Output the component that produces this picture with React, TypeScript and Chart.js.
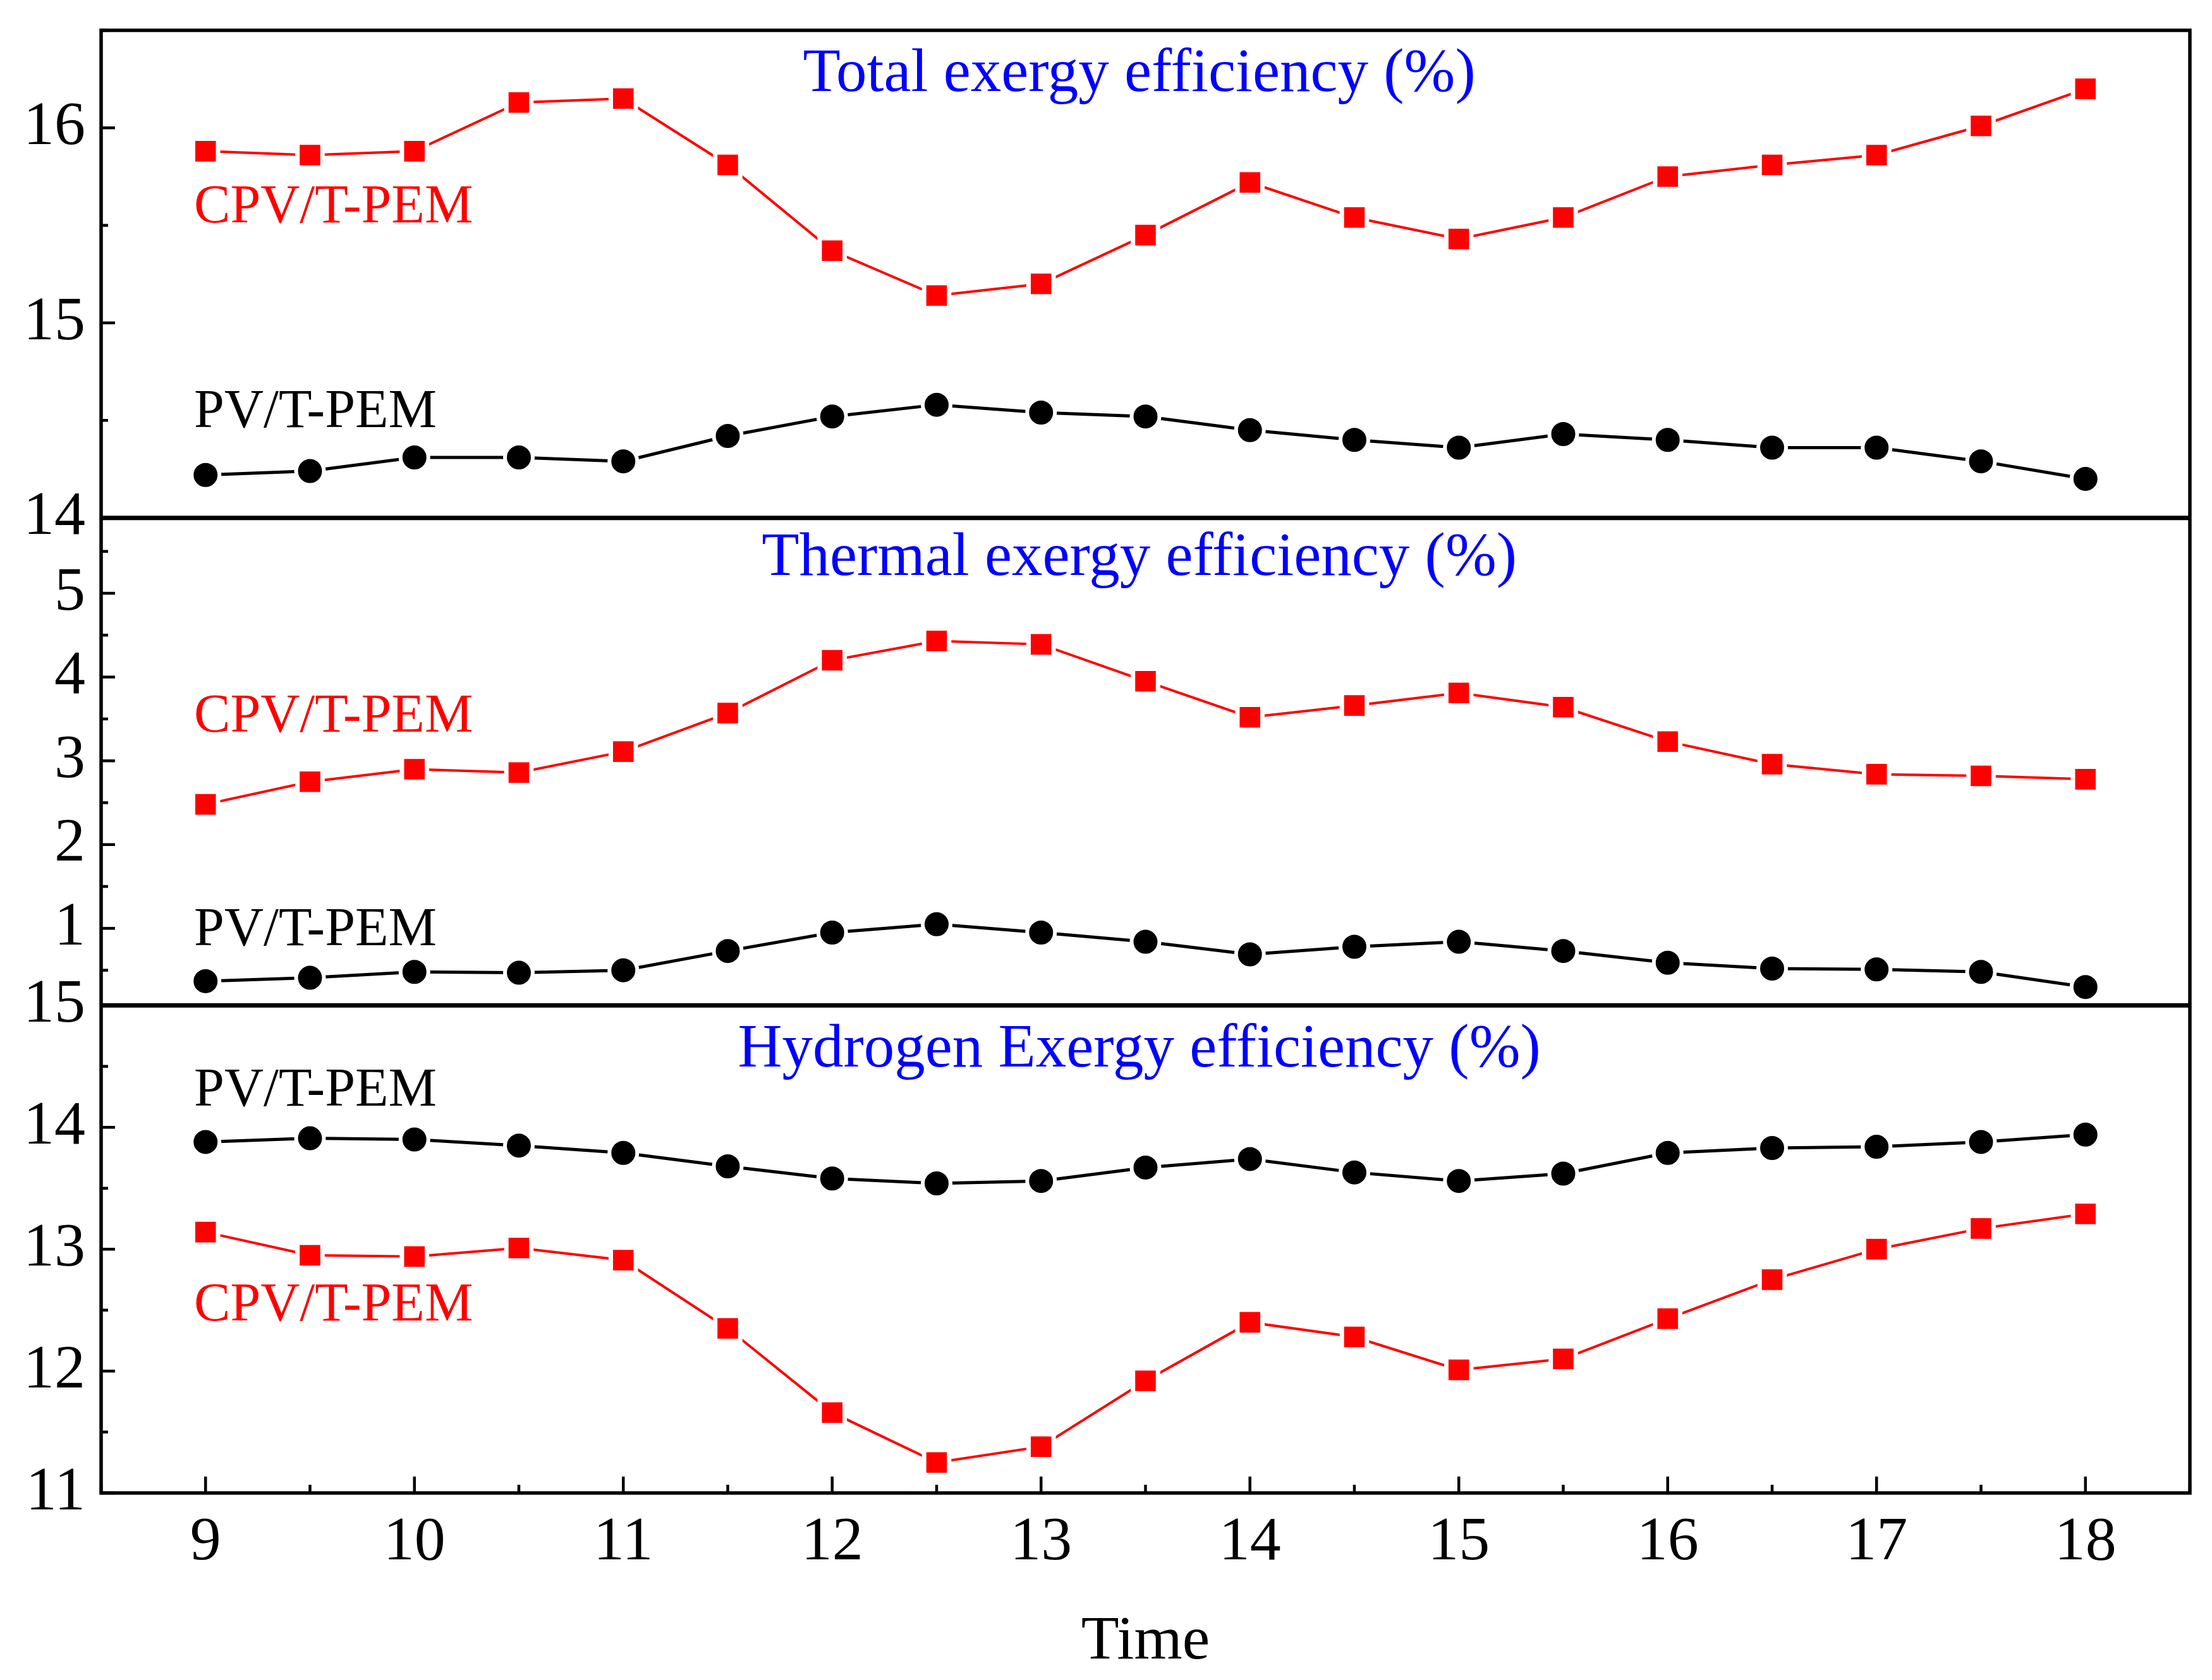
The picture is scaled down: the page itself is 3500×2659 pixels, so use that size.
import { useEffect, useRef } from "react";
import { Chart, registerables } from "chart.js";

Chart.register(...registerables);

// time of day (h)
const hours = [9, 9.5, 10, 10.5, 11, 11.5, 12, 12.5, 13, 13.5, 14, 14.5, 15, 15.5, 16, 16.5, 17, 17.5, 18];

const totalCpvt = [15.88, 15.86, 15.88, 16.13, 16.15, 15.81, 15.37, 15.14, 15.2, 15.45, 15.72, 15.54, 15.43, 15.54, 15.75, 15.81, 15.86, 16.01, 16.2];
const totalPvt = [14.22, 14.24, 14.31, 14.31, 14.29, 14.42, 14.52, 14.58, 14.54, 14.52, 14.45, 14.4, 14.36, 14.43, 14.4, 14.36, 14.36, 14.29, 14.2];

const thermalCpvt = [2.48, 2.75, 2.9, 2.86, 3.11, 3.57, 4.2, 4.43, 4.39, 3.95, 3.52, 3.66, 3.81, 3.64, 3.23, 2.96, 2.84, 2.82, 2.78];
const thermalPvt = [0.37, 0.41, 0.48, 0.47, 0.5, 0.73, 0.95, 1.05, 0.95, 0.84, 0.69, 0.78, 0.84, 0.73, 0.59, 0.52, 0.51, 0.48, 0.3];

const hydrogenCpvt = [13.14, 12.95, 12.94, 13.01, 12.91, 12.35, 11.66, 11.25, 11.38, 11.92, 12.4, 12.28, 12.01, 12.1, 12.43, 12.75, 13.0, 13.17, 13.29];
const hydrogenPvt = [13.88, 13.91, 13.9, 13.85, 13.79, 13.68, 13.58, 13.54, 13.56, 13.67, 13.74, 13.63, 13.56, 13.62, 13.79, 13.83, 13.84, 13.88, 13.94];

// tick positions (labels shown on whole numbers only)
const xTicks = [8.5, 9, 9.5, 10, 10.5, 11, 11.5, 12, 12.5, 13, 13.5, 14, 14.5, 15, 15.5, 16, 16.5, 17, 17.5, 18, 18.5];
const totalTicks = [14, 14.5, 15, 15.5, 16, 16.5];
const thermalTicks = [0.5, 1, 1.5, 2, 2.5, 3, 3.5, 4, 4.5, 5, 5.5];
const hydrogenTicks = [11, 11.5, 12, 12.5, 13, 13.5, 14, 14.5, 15];

const RED = "#ff0000";
const BLACK = "#000000";
const BLUE = "#0000ff";
const FONT = "'Liberation Serif', 'Times New Roman', serif";

const panelTitles = [
  { axis: "yTotal", text: "Total exergy efficiency (%)", x: 13.47, y: 16.19 },
  { axis: "yThermal", text: "Thermal exergy efficiency (%)", x: 13.47, y: 5.22 },
  { axis: "yHydrogen", text: "Hydrogen Exergy efficiency (%)", x: 13.47, y: 14.5 },
];

const seriesLabels = [
  { axis: "yTotal", text: "CPV/T-PEM", color: RED, x: 8.945, y: 15.514 },
  { axis: "yTotal", text: "PV/T-PEM", color: BLACK, x: 8.945, y: 14.464 },
  { axis: "yThermal", text: "CPV/T-PEM", color: RED, x: 8.945, y: 3.347 },
  { axis: "yThermal", text: "PV/T-PEM", color: BLACK, x: 8.945, y: 0.798 },
  { axis: "yHydrogen", text: "PV/T-PEM", color: BLACK, x: 8.945, y: 14.177 },
  { axis: "yHydrogen", text: "CPV/T-PEM", color: RED, x: 8.945, y: 12.416 },
];

const toPoints = (vals: number[]) => hours.map((h, i) => ({ x: h, y: vals[i] }));

const isWhole = (v: number) => Math.abs(v - Math.round(v)) < 1e-9;

function cpvt(vals: number[], axis: string) {
  return {
    label: "CPV/T-PEM",
    data: toPoints(vals),
    yAxisID: axis,
    borderColor: RED,
    borderWidth: 4,
    pointStyle: "rect",
    pointRadius: 28,
    pointBackgroundColor: RED,
    pointBorderColor: "#ffffff",
    pointBorderWidth: 7,
    tension: 0,
    clip: false,
  };
}

function pvt(vals: number[], axis: string) {
  return {
    label: "PV/T-PEM",
    data: toPoints(vals),
    yAxisID: axis,
    borderColor: BLACK,
    borderWidth: 5,
    pointStyle: "circle",
    pointRadius: 22,
    pointBackgroundColor: BLACK,
    pointBorderColor: "#ffffff",
    pointBorderWidth: 6,
    tension: 0,
    clip: false,
  };
}

function yAxis(min: number, max: number, ticks: number[]) {
  return {
    type: "linear",
    position: "left",
    stack: "panels",
    stackWeight: 1,
    min,
    max,
    grid: { display: false, drawTicks: false },
    border: { display: false },
    afterFit: (s: any) => {
      s.width = 160;
      s.paddingTop = 0;
      s.paddingBottom = 0;
    },
    afterBuildTicks: (s: any) => {
      s.ticks = ticks.map((v) => ({ value: v }));
    },
    ticks: {
      padding: 25,
      autoSkip: false,
      color: BLACK,
      font: { family: FONT, size: 98 },
      callback: (v: any) => (isWhole(Number(v)) ? String(v) : ""),
    },
  };
}

const framePlugin = {
  id: "frame",
  afterDraw(chart: any) {
    const { ctx, chartArea: a, scales } = chart;
    ctx.save();
    ctx.strokeStyle = BLACK;
    ctx.lineCap = "butt";

    // inward tick marks
    ctx.lineWidth = 4.5;
    const yAxes = [
      ["yTotal", totalTicks],
      ["yThermal", thermalTicks],
      ["yHydrogen", hydrogenTicks],
    ] as const;
    for (const [id, list] of yAxes) {
      const s = scales[id];
      for (const v of list) {
        const py = s.getPixelForValue(v);
        const len = isWhole(v) ? 22 : 11;
        ctx.beginPath();
        ctx.moveTo(a.left, py);
        ctx.lineTo(a.left + len, py);
        ctx.stroke();
      }
    }
    const xs = scales.x;
    for (const v of xTicks) {
      const px = xs.getPixelForValue(v);
      const len = isWhole(v) ? 26 : 13;
      ctx.beginPath();
      ctx.moveTo(px, a.bottom);
      ctx.lineTo(px, a.bottom - len);
      ctx.stroke();
    }

    // outer frame
    ctx.lineWidth = 5.5;
    ctx.strokeRect(a.left, a.top, a.right - a.left, a.bottom - a.top);

    // panel dividers
    ctx.lineWidth = 7;
    for (const id of ["yTotal", "yThermal"]) {
      const yb = scales[id].bottom;
      ctx.beginPath();
      ctx.moveTo(a.left - 2, yb);
      ctx.lineTo(a.right + 2, yb);
      ctx.stroke();
    }

    // panel titles
    ctx.textBaseline = "alphabetic";
    ctx.textAlign = "center";
    ctx.fillStyle = BLUE;
    ctx.font = `97px ${FONT}`;
    for (const t of panelTitles) {
      ctx.fillText(t.text, xs.getPixelForValue(t.x), scales[t.axis].getPixelForValue(t.y));
    }

    // series labels
    ctx.textAlign = "left";
    ctx.font = `86px ${FONT}`;
    for (const l of seriesLabels) {
      ctx.fillStyle = l.color;
      ctx.fillText(l.text, xs.getPixelForValue(l.x), scales[l.axis].getPixelForValue(l.y));
    }
    ctx.restore();
  },
};

export default function App() {
  const canvasRef = useRef<HTMLCanvasElement>(null);

  useEffect(() => {
    document.body.style.margin = "0";
    if (!canvasRef.current) return;

    const chart = new Chart(canvasRef.current, {
      type: "line",
      data: {
        datasets: [
          cpvt(totalCpvt, "yTotal"),
          pvt(totalPvt, "yTotal"),
          cpvt(thermalCpvt, "yThermal"),
          pvt(thermalPvt, "yThermal"),
          cpvt(hydrogenCpvt, "yHydrogen"),
          pvt(hydrogenPvt, "yHydrogen"),
        ] as any,
      },
      options: {
        responsive: true,
        maintainAspectRatio: false,
        devicePixelRatio: 1,
        animation: false,
        layout: { padding: { left: 0, top: 48, right: 26, bottom: 0 } },
        plugins: {
          legend: { display: false },
          tooltip: { enabled: false },
        },
        scales: {
          x: {
            type: "linear",
            position: "bottom",
            min: 8.5,
            max: 18.5,
            grid: { display: false, drawTicks: false },
            border: { display: false },
            afterFit: (s: any) => {
              s.height = 296;
              s.paddingLeft = 0;
              s.paddingRight = 0;
            },
            afterBuildTicks: (s: any) => {
              s.ticks = xTicks.map((v) => ({ value: v }));
            },
            ticks: {
              padding: 20,
              autoSkip: false,
              maxRotation: 0,
              color: BLACK,
              font: { family: FONT, size: 98 },
              callback: (v: any) => (isWhole(Number(v)) ? String(v) : ""),
            },
            title: {
              display: true,
              text: "Time",
              color: BLACK,
              font: { family: FONT, size: 98 },
              padding: { top: 0, bottom: 1 },
            },
          },
          yHydrogen: yAxis(11, 15, hydrogenTicks),
          yThermal: yAxis(0.08, 5.9, thermalTicks),
          yTotal: yAxis(14, 16.5, totalTicks),
        } as any,
      },
      plugins: [framePlugin],
    });

    return () => chart.destroy();
  }, []);

  return (
    <div style={{ width: 3500, height: 2659, position: "relative", background: "#ffffff" }}>
      <canvas ref={canvasRef} />
    </div>
  );
}
